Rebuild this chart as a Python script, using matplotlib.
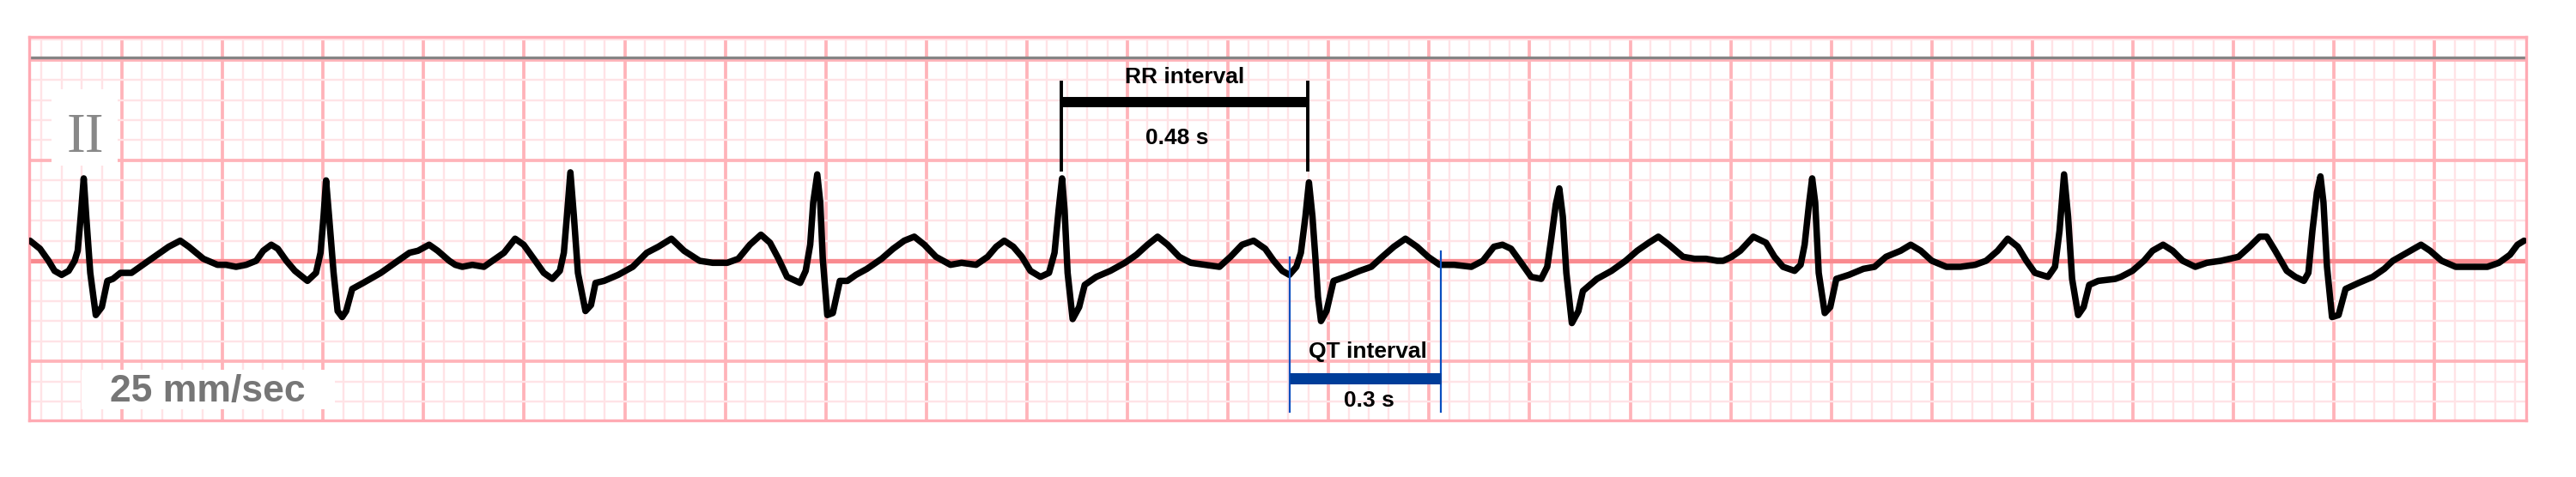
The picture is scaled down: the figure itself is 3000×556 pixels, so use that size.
import matplotlib.pyplot as plt
from matplotlib.patches import Rectangle
import numpy as np

# lead II strip, time in s, amplitude in mV
ecg_t = [0.017, 0.037, 0.054, 0.066, 0.080, 0.094, 0.106, 0.112, 0.118, 0.124,
         0.129, 0.137, 0.148, 0.160, 0.171, 0.182, 0.197, 0.219, 0.236, 0.253,
         0.276, 0.293, 0.316, 0.333, 0.362, 0.390, 0.407, 0.427, 0.447, 0.467,
         0.481, 0.497, 0.510, 0.527, 0.544, 0.569, 0.586, 0.595, 0.601, 0.606,
         0.612, 0.621, 0.629, 0.638, 0.646, 0.658, 0.680, 0.715, 0.749, 0.772,
         0.789, 0.811, 0.828, 0.851, 0.863, 0.877, 0.897, 0.920, 0.937, 0.960,
         0.982, 0.999, 1.022, 1.039, 1.056, 1.071, 1.079, 1.085, 1.092, 1.099,
         1.107, 1.122, 1.133, 1.142, 1.159, 1.187, 1.216, 1.244, 1.267, 1.293,
         1.318, 1.349, 1.375, 1.404, 1.426, 1.449, 1.471, 1.489, 1.506, 1.523,
         1.549, 1.560, 1.569, 1.575, 1.583, 1.589, 1.594, 1.603, 1.614, 1.628,
         1.643, 1.660, 1.682, 1.711, 1.734, 1.756, 1.776, 1.796, 1.819, 1.848,
         1.870, 1.899, 1.922, 1.939, 1.955, 1.973, 1.990, 2.007, 2.027, 2.044,
         2.055, 2.063, 2.070, 2.075, 2.081, 2.091, 2.104, 2.115, 2.138, 2.166,
         2.195, 2.218, 2.240, 2.260, 2.280, 2.303, 2.326, 2.354, 2.383, 2.405,
         2.428, 2.451, 2.474, 2.491, 2.508, 2.522, 2.536, 2.545, 2.554, 2.561,
         2.568, 2.574, 2.579, 2.585, 2.596, 2.610, 2.633, 2.662, 2.685, 2.707,
         2.730, 2.753, 2.776, 2.798, 2.821, 2.850, 2.884, 2.907, 2.929, 2.946,
         2.963, 2.986, 3.003, 3.023, 3.035, 3.043, 3.052, 3.059, 3.066, 3.073,
         3.084, 3.097, 3.106, 3.134, 3.163, 3.191, 3.214, 3.237, 3.256, 3.277,
         3.305, 3.328, 3.351, 3.373, 3.385, 3.402, 3.419, 3.445, 3.470, 3.487,
         3.504, 3.527, 3.539, 3.547, 3.556, 3.562, 3.568, 3.575, 3.587, 3.598,
         3.610, 3.635, 3.664, 3.686, 3.709, 3.738, 3.758, 3.778, 3.800, 3.829,
         3.857, 3.886, 3.908, 3.931, 3.951, 3.971, 3.988, 4.005, 4.031, 4.045,
         4.054, 4.063, 4.071, 4.079, 4.091, 4.102, 4.113, 4.131, 4.165, 4.176,
         4.199, 4.222, 4.239, 4.260, 4.279, 4.299, 4.324, 4.347, 4.375, 4.410,
         4.432, 4.452, 4.466, 4.483, 4.506, 4.523, 4.540, 4.549, 4.557, 4.566,
         4.573, 4.579, 4.586, 4.596, 4.609, 4.623, 4.649, 4.677, 4.700, 4.717,
         4.745, 4.773, 4.791, 4.814, 4.842, 4.871, 4.905, 4.928, 4.950, 4.965,
         4.978]
ecg_mv = [0.10, 0.06, 0.00, -0.05, -0.07, -0.05, 0.00, 0.05, 0.22, 0.41,
          0.22, -0.06, -0.27, -0.23, -0.10, -0.09, -0.06, -0.06, -0.03, 0.00,
          0.04, 0.07, 0.10, 0.07, 0.01, -0.02, -0.02, -0.03, -0.02, 0.00,
          0.05, 0.08, 0.06, 0.00, -0.05, -0.10, -0.06, 0.04, 0.22, 0.40,
          0.22, -0.06, -0.25, -0.28, -0.25, -0.14, -0.11, -0.06, 0.00, 0.04,
          0.05, 0.08, 0.05, 0.00, -0.02, -0.03, -0.02, -0.03, 0.00, 0.04,
          0.11, 0.08, 0.00, -0.06, -0.09, -0.05, 0.04, 0.22, 0.44, 0.22,
          -0.06, -0.25, -0.22, -0.11, -0.10, -0.07, -0.03, 0.04, 0.07, 0.11,
          0.05, 0.00, -0.01, -0.01, 0.01, 0.08, 0.13, 0.09, 0.01, -0.08,
          -0.11, -0.05, 0.08, 0.29, 0.43, 0.29, 0.01, -0.27, -0.26, -0.10,
          -0.10, -0.07, -0.04, 0.01, 0.06, 0.10, 0.12, 0.08, 0.02, -0.02,
          -0.01, -0.02, 0.02, 0.07, 0.10, 0.07, 0.02, -0.05, -0.08, -0.06,
          0.04, 0.25, 0.41, 0.25, -0.06, -0.29, -0.23, -0.12, -0.08, -0.05,
          -0.01, 0.03, 0.08, 0.12, 0.08, 0.02, -0.01, -0.02, -0.03, 0.02,
          0.08, 0.10, 0.06, 0.00, -0.05, -0.07, -0.03, 0.04, 0.22, 0.39,
          0.22, 0.01, -0.18, -0.30, -0.25, -0.10, -0.08, -0.05, -0.03, 0.02,
          0.07, 0.11, 0.07, 0.02, -0.02, -0.02, -0.03, 0.00, 0.07, 0.08,
          0.06, -0.02, -0.08, -0.09, -0.03, 0.11, 0.28, 0.36, 0.22, -0.06,
          -0.31, -0.25, -0.15, -0.09, -0.05, 0.00, 0.05, 0.09, 0.12, 0.08,
          0.02, 0.01, 0.01, 0.00, 0.00, 0.02, 0.05, 0.12, 0.09, 0.02,
          -0.03, -0.05, -0.02, 0.08, 0.29, 0.41, 0.29, -0.06, -0.26, -0.23,
          -0.09, -0.07, -0.04, -0.03, 0.02, 0.05, 0.08, 0.05, 0.00, -0.03,
          -0.03, -0.02, 0.00, 0.05, 0.11, 0.07, 0.00, -0.06, -0.08, -0.03,
          0.15, 0.43, 0.22, -0.09, -0.27, -0.23, -0.12, -0.10, -0.09, -0.08,
          -0.05, 0.00, 0.05, 0.08, 0.05, 0.00, -0.03, -0.01, 0.00, 0.02,
          0.07, 0.12, 0.12, 0.05, -0.05, -0.08, -0.10, -0.06, 0.15, 0.34,
          0.42, 0.29, -0.03, -0.28, -0.27, -0.14, -0.11, -0.08, -0.04, 0.00,
          0.04, 0.08, 0.05, 0.00, -0.03, -0.03, -0.03, -0.01, 0.03, 0.08,
          0.10]

# annotations
rr_start, rr_end = 2.068, 2.559
rr_label, rr_value = "RR interval", "0.48 s"
qt_start, qt_end = 2.523, 2.823
qt_label, qt_value = "QT interval", "0.3 s"
lead_name = "II"
speed_label = "25 mm/sec"
cal_level = 1.01

fig = plt.figure(figsize=(30, 5.56), dpi=100)
ax = fig.add_axes([0.01133, 0.11871, 0.96933, 0.80396])
ax.set_xlim(0.0155, 4.9822)
ax.set_ylim(-0.794, 1.114)

# ECG paper grid
ax.set_xticks(np.arange(0.2, 4.9, 0.2))
ax.set_xticks(np.arange(0.04, 4.98, 0.04), minor=True)
ax.set_yticks([-0.5, 0.5, 1.0])
ax.set_yticks(np.arange(-0.7, 1.11, 0.1), minor=True)
ax.grid(which='minor', color='#ffe3e6', lw=1.7)
ax.grid(which='major', color='#ffb3b9', lw=2.7)
ax.set_axisbelow(True)
ax.tick_params(which='both', length=0, labelbottom=False, labelleft=False)
for s in ax.spines.values():
    s.set_color('#ffaab3')
    s.set_linewidth(2.4)
ax.axhline(0, color='#f98a8f', lw=3.8, zorder=1)
ax.axhline(cal_level, color='#858585', lw=2.4, zorder=2)

# white label boxes
ax.add_patch(Rectangle((0.060, 0.474), 0.1315, 0.380, facecolor='white',
                       edgecolor='none', zorder=2))
ax.add_patch(Rectangle((0.1197, -0.739), 0.504, 0.197, facecolor='white',
                       edgecolor='none', zorder=2))
ax.text(0.127, 0.542, lead_name, family='Liberation Serif', fontsize=47,
        color='#888888', ha='center', va='baseline', zorder=3)
ax.text(0.370, -0.700, speed_label, family='Liberation Sans', fontsize=32,
        fontweight='bold', color='#767676', ha='center', va='baseline', zorder=3)

# trace
ax.plot(ecg_t, ecg_mv, color='black', lw=5.4, solid_joinstyle='round',
        solid_capstyle='round', zorder=5)

# RR interval marker
ax.plot([rr_start, rr_start], [0.453, 0.888], color='black', lw=2.8, zorder=6)
ax.plot([rr_end, rr_end], [0.453, 0.888], color='black', lw=2.8, zorder=6)
ax.plot([rr_start, rr_end], [0.790, 0.790], color='black', lw=8.6,
        solid_capstyle='butt', zorder=6)
ax.text((rr_start + rr_end) / 2, 0.884, rr_label, family='Liberation Sans',
        fontsize=19, fontweight='bold', ha='center', va='baseline', zorder=6)
ax.text(2.299, 0.581, rr_value, family='Liberation Sans', fontsize=19,
        fontweight='bold', ha='center', va='baseline', zorder=6)

# QT interval marker
ax.plot([qt_start, qt_start], [-0.751, 0.017], color='#0a4fc0', lw=1.6, zorder=6)
ax.plot([qt_end, qt_end], [-0.751, 0.047], color='#0a4fc0', lw=1.6, zorder=6)
ax.plot([qt_start, qt_end], [-0.583, -0.583], color='#003d99', lw=9.4,
        solid_capstyle='butt', zorder=6)
ax.text(2.678, -0.481, qt_label, family='Liberation Sans', fontsize=19,
        fontweight='bold', ha='center', va='baseline', zorder=6)
ax.text(2.680, -0.726, qt_value, family='Liberation Sans', fontsize=19,
        fontweight='bold', ha='center', va='baseline', zorder=6)

fig.savefig('out.png', dpi=100, facecolor='white')
